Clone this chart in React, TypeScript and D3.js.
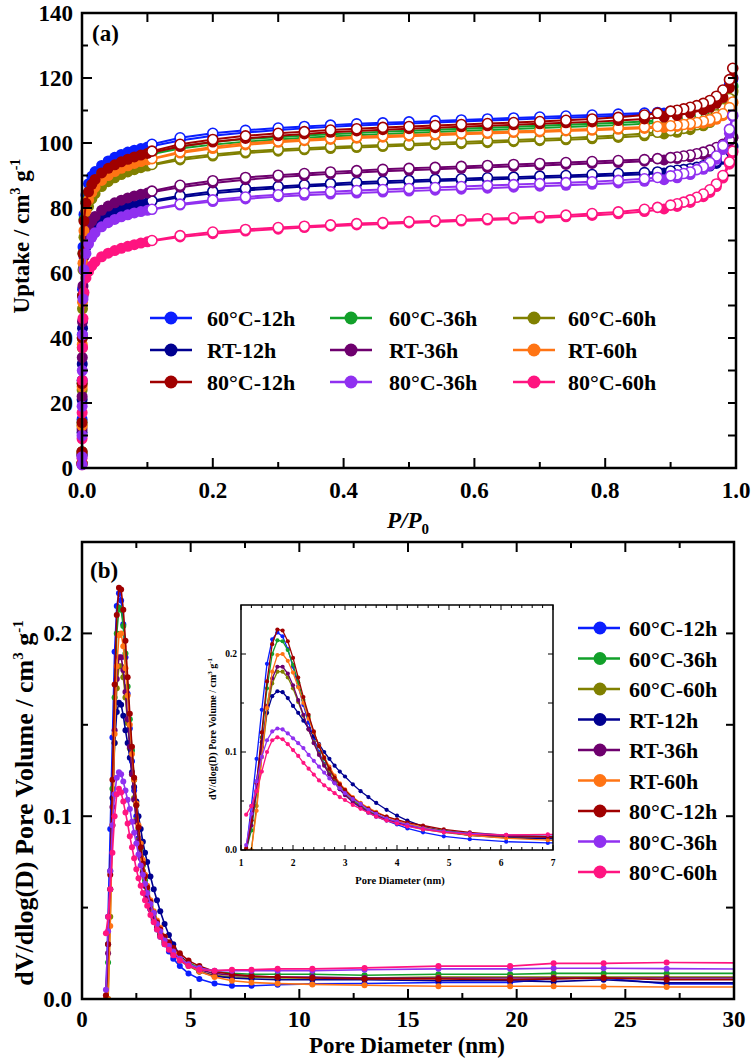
import React from 'react';
import * as d3 from 'd3';

// ---------- shared ----------
const SERIES_NAMES = ['60°C-12h', '60°C-36h', '60°C-60h', 'RT-12h', 'RT-36h', 'RT-60h', '80°C-12h', '80°C-36h', '80°C-60h'];
const SERIES_COLORS = ['#0a1eff', '#12a02a', '#808000', '#000090', '#6e006e', '#ff7414', '#a00000', '#9030f0', '#ff1480'];

// ---------- panel (a): N2 isotherms ----------
const P_ADS = [
  0.00001, 0.00003, 0.0001, 0.0002, 0.0004, 0.0008, 0.0015, 0.003, 0.006,
  0.01, 0.015, 0.02, 0.03, 0.04, 0.05, 0.06, 0.07, 0.08, 0.09, 0.1,
  0.15, 0.2, 0.25, 0.3, 0.34, 0.38, 0.42, 0.46, 0.5,
  0.54, 0.58, 0.62, 0.66, 0.7, 0.74, 0.78, 0.82, 0.86,
  0.89, 0.91, 0.93, 0.95, 0.96, 0.97, 0.98, 0.99, 0.995,
];
const P_DES = [
  0.995, 0.99, 0.98, 0.97, 0.96, 0.95, 0.94, 0.93, 0.92, 0.91, 0.9,
  0.88, 0.86, 0.82, 0.78, 0.74, 0.7, 0.66, 0.62, 0.58,
  0.54, 0.5, 0.46, 0.42, 0.38, 0.34, 0.3, 0.25, 0.2, 0.15, 0.107,
];

const ADS_60_12 = [
  1.5, 5, 15, 27, 41, 55, 68, 78, 84,
  87.5, 89.8, 91.2, 93.1, 94.5, 95.6, 96.5, 97.2, 97.8, 98.3, 98.8,
  100.8, 102.2, 103.2, 104, 104.5, 105, 105.4, 105.7, 106,
  106.3, 106.6, 106.9, 107.2, 107.5, 107.8, 108.1, 108.4, 108.8,
  109.2, 109.6, 110.2, 111, 111.7, 112.7, 114.3, 117, 119.5,
];
const DES_60_12 = [
  120, 117.8, 115, 113.4, 112.3, 111.6, 111, 110.6, 110.2, 109.9, 109.7,
  109.4, 109.2, 108.9, 108.6, 108.3, 108, 107.7, 107.4, 107.1,
  106.8, 106.5, 106.2, 105.9, 105.5, 105.1, 104.6, 103.9, 103, 101.6, 99.6,
];
const ADS_60_36 = [
  1.5, 5, 14, 26, 40, 53, 66, 76.5, 82,
  84.8, 87, 88.5, 90.4, 91.8, 92.9, 93.8, 94.6, 95.3, 95.8, 96.3,
  98.3, 99.5, 100.4, 101.1, 101.6, 102, 102.4, 102.8, 103.1,
  103.4, 103.7, 104, 104.3, 104.6, 104.9, 105.2, 105.5, 105.9,
  106.4, 106.8, 107.4, 108.3, 109, 110, 111.7, 114.5, 117,
];
const DES_60_36 = [
  117.5, 115.3, 112.5, 110.9, 109.9, 109.2, 108.6, 108.1, 107.7, 107.4, 107.2,
  106.9, 106.6, 106.2, 105.9, 105.6, 105.3, 105, 104.7, 104.4,
  104.1, 103.8, 103.5, 103.1, 102.7, 102.3, 101.8, 101.2, 100.3, 98.9, 97,
];
const ADS_60_60 = [
  1.5, 4.5, 13, 24, 37, 49, 61, 71, 77,
  80.5, 82.8, 84.4, 86.6, 88.1, 89.3, 90.3, 91.1, 91.8, 92.4, 92.9,
  94.8, 96, 96.9, 97.5, 97.9, 98.3, 98.6, 98.9, 99.2,
  99.5, 99.8, 100.1, 100.4, 100.7, 101, 101.3, 101.7, 102.2,
  102.8, 103.3, 104.1, 105.3, 106.3, 107.7, 109.8, 113, 115.5,
];
const DES_60_60 = [
  116, 113.7, 110.6, 108.7, 107.4, 106.4, 105.6, 105, 104.5, 104.1, 103.8,
  103.3, 102.9, 102.3, 101.9, 101.5, 101.2, 100.9, 100.6, 100.3,
  100, 99.7, 99.4, 99.1, 98.8, 98.4, 98, 97.4, 96.5, 95.3, 93.4,
];
const ADS_RT_12 = [
  1.2, 4, 11, 21, 32, 43, 53, 62, 68,
  71, 73, 74.4, 76.3, 77.6, 78.6, 79.4, 80.1, 80.7, 81.2, 81.6,
  83.3, 84.5, 85.4, 86.1, 86.6, 87, 87.4, 87.7, 88,
  88.3, 88.5, 88.8, 89, 89.3, 89.5, 89.8, 90.1, 90.4,
  90.8, 91.1, 91.6, 92.3, 92.9, 93.7, 95, 97, 98.5,
];
const DES_RT_12 = [
  99, 97.5, 95.6, 94.4, 93.6, 93, 92.5, 92.1, 91.8, 91.6, 91.4,
  91.1, 90.9, 90.6, 90.3, 90, 89.8, 89.5, 89.3, 89,
  88.8, 88.5, 88.2, 87.9, 87.5, 87.1, 86.6, 86, 85.1, 83.8, 82.2,
];
const ADS_RT_36 = [
  1.2, 4, 12, 22, 34, 45, 56, 65, 71,
  74, 76, 77.4, 79.3, 80.6, 81.6, 82.4, 83.1, 83.7, 84.2, 84.6,
  86.4, 87.7, 88.7, 89.5, 90, 90.5, 90.9, 91.3, 91.6,
  91.9, 92.2, 92.5, 92.8, 93.1, 93.4, 93.7, 94, 94.4,
  94.8, 95.2, 95.7, 96.5, 97.1, 97.9, 99, 100.5, 101.5,
];
const DES_RT_36 = [
  101.8, 100.9, 99.6, 98.6, 97.8, 97.2, 96.7, 96.3, 96, 95.7, 95.5,
  95.2, 94.9, 94.6, 94.3, 94, 93.7, 93.4, 93.1, 92.8,
  92.5, 92.2, 91.9, 91.5, 91.1, 90.6, 90.1, 89.4, 88.4, 87, 85.2,
];
const ADS_RT_60 = [
  1.5, 5, 13, 25, 38, 51, 63, 73, 79,
  82.5, 84.8, 86.4, 88.5, 90, 91.2, 92.2, 93, 93.7, 94.3, 94.8,
  96.9, 98.3, 99.4, 100.2, 100.7, 101.1, 101.5, 101.8, 102.1,
  102.4, 102.7, 102.9, 103.2, 103.4, 103.7, 103.9, 104.2, 104.5,
  104.8, 105.1, 105.5, 106.1, 106.6, 107.3, 108.4, 110.3, 112.2,
];
const DES_RT_60 = [
  112.6, 110.9, 109, 107.9, 107.2, 106.7, 106.3, 106, 105.7, 105.5, 105.3,
  105.1, 104.9, 104.6, 104.3, 104.1, 103.8, 103.6, 103.3, 103.1,
  102.8, 102.5, 102.2, 101.9, 101.5, 101.1, 100.6, 99.9, 98.8, 97.3, 95.2,
];
const ADS_80_12 = [
  1.5, 5, 14, 26, 40, 53, 66, 76, 81.5,
  85, 87.3, 88.8, 90.8, 92.2, 93.3, 94.2, 95, 95.7, 96.3, 96.8,
  98.9, 100.3, 101.4, 102.2, 102.8, 103.3, 103.7, 104.1, 104.4,
  104.7, 105, 105.3, 105.6, 105.9, 106.2, 106.5, 106.9, 107.4,
  108, 108.5, 109.2, 110.2, 111, 112.2, 114, 117, 120,
];
const DES_80_12 = [
  123, 119.5, 116.3, 114.4, 113.1, 112.2, 111.5, 111, 110.5, 110.1, 109.8,
  109.2, 108.6, 107.9, 107.4, 107, 106.6, 106.3, 106, 105.7,
  105.4, 105.1, 104.8, 104.4, 104, 103.5, 103, 102.2, 101.1, 99.6, 97.5,
];
const ADS_80_36 = [
  1, 3.5, 10, 19, 30, 41, 52, 61, 66,
  69, 71, 72.4, 74.2, 75.5, 76.5, 77.3, 77.9, 78.5, 78.9, 79.3,
  80.9, 82, 82.8, 83.5, 83.9, 84.3, 84.6, 84.9, 85.2,
  85.5, 85.8, 86.1, 86.4, 86.7, 87, 87.3, 87.7, 88.2,
  88.7, 89.3, 90.3, 91.9, 93.1, 95, 98, 103, 108.2,
];
const DES_80_36 = [
  108.5, 104.2, 99.2, 96, 94, 92.7, 91.8, 91.1, 90.6, 90.2, 89.9,
  89.4, 89, 88.5, 88.1, 87.8, 87.5, 87.2, 86.9, 86.6,
  86.3, 86, 85.7, 85.4, 85, 84.6, 84.1, 83.4, 82.5, 81.2, 79.6,
];
const ADS_80_60 = [
  1, 3, 9, 17, 27, 37, 46, 54, 58.5,
  60.5, 62.2, 63.4, 65, 66.1, 66.9, 67.6, 68.2, 68.7, 69.2, 69.6,
  71.1, 72.1, 72.9, 73.5, 74, 74.4, 74.8, 75.1, 75.4,
  75.7, 76, 76.3, 76.6, 76.9, 77.3, 77.7, 78.2, 78.9,
  79.7, 80.5, 81.7, 83.5, 84.8, 86.6, 89.2, 93.5, 97,
];
const DES_80_60 = [
  97.5, 94.2, 90, 87.4, 85.6, 84.3, 83.3, 82.5, 81.8, 81.3, 80.9,
  80.2, 79.6, 78.8, 78.3, 77.8, 77.4, 77, 76.7, 76.4,
  76.1, 75.8, 75.5, 75.2, 74.8, 74.4, 74, 73.4, 72.6, 71.5, 70,
];

const ADS_ALL = [ADS_60_12, ADS_60_36, ADS_60_60, ADS_RT_12, ADS_RT_36, ADS_RT_60, ADS_80_12, ADS_80_36, ADS_80_60];
const DES_ALL = [DES_60_12, DES_60_36, DES_60_60, DES_RT_12, DES_RT_36, DES_RT_60, DES_80_12, DES_80_36, DES_80_60];

const A_X_TICKS = [0, 0.2, 0.4, 0.6, 0.8, 1.0];
const A_X_LABELS = ['0.0', '0.2', '0.4', '0.6', '0.8', '1.0'];
const A_Y_TICKS = [0, 20, 40, 60, 80, 100, 120, 140];

// ---------- panel (b): pore size distribution ----------
const PSD_D = [
  1.1, 1.2, 1.3, 1.4, 1.5, 1.6, 1.7, 1.8, 1.9, 2.0,
  2.1, 2.2, 2.3, 2.4, 2.5, 2.6, 2.7, 2.8, 2.9, 3.0,
  3.15, 3.3, 3.45, 3.6, 3.8, 4.0, 4.2, 4.5, 4.9, 5.4,
  6.1, 6.9, 7.8, 9.0, 10.6, 13.0, 16.4, 19.7, 21.7, 24.0,
  26.9, 31.0,
];
const PSD_60_12 = [
  0.0, 0.045, 0.093, 0.143, 0.19, 0.215, 0.222, 0.218, 0.205, 0.187,
  0.167, 0.148, 0.13, 0.114, 0.1, 0.088, 0.078, 0.069, 0.062, 0.056,
  0.049, 0.043, 0.038, 0.034, 0.03, 0.026, 0.022, 0.018, 0.014, 0.011,
  0.0085, 0.0072, 0.0072, 0.0078, 0.0083, 0.0085, 0.009, 0.009, 0.0112, 0.0115,
  0.0082, 0.0082,
];
const PSD_60_36 = [
  0.0, 0.02, 0.06, 0.115, 0.165, 0.2, 0.214, 0.213, 0.204, 0.189,
  0.171, 0.153, 0.136, 0.12, 0.106, 0.093, 0.082, 0.073, 0.065, 0.059,
  0.051, 0.045, 0.04, 0.036, 0.032, 0.029, 0.026, 0.023, 0.02, 0.017,
  0.015, 0.014, 0.0135, 0.0135, 0.0135, 0.013, 0.0135, 0.0135, 0.014, 0.014,
  0.014, 0.014,
];
const PSD_60_60 = [
  0.0, 0.0, 0.045, 0.095, 0.14, 0.17, 0.182, 0.182, 0.176, 0.165,
  0.151, 0.137, 0.123, 0.11, 0.098, 0.087, 0.078, 0.07, 0.063, 0.057,
  0.05, 0.044, 0.039, 0.035, 0.031, 0.028, 0.025, 0.021, 0.018, 0.015,
  0.013, 0.012, 0.012, 0.0115, 0.0115, 0.0115, 0.012, 0.012, 0.012, 0.012,
  0.012, 0.012,
];
const PSD_RT_12 = [
  0.0, 0.03, 0.07, 0.11, 0.14, 0.157, 0.162, 0.161, 0.155, 0.147,
  0.14, 0.132, 0.124, 0.116, 0.108, 0.1, 0.093, 0.086, 0.08, 0.075,
  0.067, 0.06, 0.054, 0.048, 0.041, 0.035, 0.03, 0.024, 0.019, 0.015,
  0.0125, 0.0115, 0.011, 0.0105, 0.0105, 0.0105, 0.01, 0.01, 0.0095, 0.0105,
  0.0088, 0.0088,
];
const PSD_RT_36 = [
  0.0, 0.025, 0.06, 0.105, 0.147, 0.175, 0.187, 0.187, 0.18, 0.168,
  0.153, 0.138, 0.123, 0.109, 0.097, 0.086, 0.077, 0.069, 0.062, 0.056,
  0.049, 0.044, 0.039, 0.035, 0.031, 0.028, 0.025, 0.022, 0.019, 0.016,
  0.014, 0.013, 0.0125, 0.012, 0.012, 0.0115, 0.0115, 0.0115, 0.0115, 0.0115,
  0.0115, 0.0115,
];
const PSD_RT_60 = [
  0.0, 0.0, 0.04, 0.095, 0.145, 0.182, 0.199, 0.2, 0.193, 0.181,
  0.166, 0.15, 0.134, 0.12, 0.107, 0.095, 0.085, 0.076, 0.068, 0.062,
  0.054, 0.048, 0.043, 0.039, 0.034, 0.03, 0.027, 0.023, 0.019, 0.015,
  0.012, 0.01, 0.009, 0.0085, 0.008, 0.0075, 0.007, 0.007, 0.007, 0.0068,
  0.0066, 0.0066,
];
const PSD_80_12 = [
  0.002, 0.03, 0.068, 0.12, 0.172, 0.21, 0.225, 0.224, 0.213, 0.196,
  0.176, 0.156, 0.138, 0.121, 0.106, 0.094, 0.083, 0.074, 0.067, 0.061,
  0.053, 0.047, 0.042, 0.038, 0.034, 0.031, 0.028, 0.025, 0.021, 0.018,
  0.015, 0.0135, 0.0125, 0.012, 0.0115, 0.011, 0.011, 0.0105, 0.011, 0.0115,
  0.0105, 0.0105,
];
const PSD_80_36 = [
  0.005, 0.037, 0.07, 0.095, 0.112, 0.121, 0.124, 0.123, 0.119, 0.114,
  0.109, 0.104, 0.097, 0.091, 0.085, 0.079, 0.073, 0.068, 0.063, 0.058,
  0.052, 0.047, 0.041, 0.037, 0.032, 0.029, 0.026, 0.022, 0.019, 0.017,
  0.0155, 0.0155, 0.0155, 0.0155, 0.0155, 0.016, 0.0165, 0.0165, 0.0168, 0.0168,
  0.0166, 0.0164,
];
const PSD_80_60 = [
  0.036, 0.045, 0.06, 0.08, 0.1, 0.112, 0.115, 0.113, 0.108, 0.102,
  0.096, 0.089, 0.083, 0.077, 0.071, 0.066, 0.062, 0.058, 0.054, 0.051,
  0.046, 0.042, 0.038, 0.034, 0.03, 0.027, 0.024, 0.021, 0.018, 0.016,
  0.0155, 0.016, 0.016, 0.0165, 0.0165, 0.017, 0.018, 0.018, 0.0195, 0.0195,
  0.02, 0.0197,
];
const PSD_ALL = [PSD_60_12, PSD_60_36, PSD_60_60, PSD_RT_12, PSD_RT_36, PSD_RT_60, PSD_80_12, PSD_80_36, PSD_80_60];

const B_X_TICKS = [0, 5, 10, 15, 20, 25, 30];
const B_Y_TICKS = [0, 0.1, 0.2];
const B_Y_LABELS = ['0.0', '0.1', '0.2'];
const I_X_TICKS = [1, 2, 3, 4, 5, 6, 7];
const I_Y_TICKS = [0, 0.1, 0.2];
const I_Y_LABELS = ['0.0', '0.1', '0.2'];

const FONT = "'Liberation Serif', 'Times New Roman', serif";
const DRAW_ORDER_A = [0, 1, 2, 3, 4, 5, 6, 8, 7];

export default function App() {
  const xA = d3.scaleLinear().domain([0, 1]).range([82, 736]);
  const yA = d3.scaleLinear().domain([0, 140]).range([468, 13]);
  const xB = d3.scaleLinear().domain([0, 30]).range([82, 734]);
  const yB = d3.scaleLinear().domain([0, 0.25]).range([999, 542]);
  const xI = d3.scaleLinear().domain([1, 7]).range([241, 553]);
  const yI = d3.scaleLinear().domain([0, 0.25]).range([850, 605]);

  const lineA = d3.line<[number, number]>().x((d) => xA(d[0])).y((d) => yA(d[1]));
  const lineB = d3.line<[number, number]>().x((d) => xB(d[0])).y((d) => yB(d[1]));
  const lineI = d3.line<[number, number]>().x((d) => xI(d[0])).y((d) => yI(d[1]));

  const ads = ADS_ALL.map((arr) => P_ADS.map((p, i) => [p, arr[i]] as [number, number]));
  const des = DES_ALL.map((arr) => P_DES.map((p, i) => [p, arr[i]] as [number, number]));
  const psd = PSD_ALL.map((arr) => PSD_D.map((d, i) => [d, arr[i]] as [number, number]));

  const txt = { fontFamily: FONT, fontWeight: 700 as const };

  // ---- ticks ----
  const aXMinor = d3.range(0.1, 1.0, 0.2);
  const aTop = d3.range(0.1, 1.0, 0.1);
  const aYMinor = d3.range(10, 140, 20);
  const aRight = d3.range(10, 140, 10);
  const bXMinor = d3.range(2.5, 30, 5);
  const bYMinor = [0.05, 0.15];
  const bRight = [0.05, 0.1, 0.15, 0.2];
  const iXMinor = d3.range(1.2, 7, 0.2).filter((v) => Math.abs(v - Math.round(v)) > 0.05);
  const iYMinor = [0.05, 0.15];
  const iRight = [0.05, 0.1, 0.15, 0.2];

  const tick = { stroke: '#000', strokeWidth: 2 };
  const tickI = { stroke: '#000', strokeWidth: 1 };

  const legendA = [
    { i: 0, col: 0, row: 0 }, { i: 3, col: 0, row: 1 }, { i: 6, col: 0, row: 2 },
    { i: 1, col: 1, row: 0 }, { i: 4, col: 1, row: 1 }, { i: 7, col: 1, row: 2 },
    { i: 2, col: 2, row: 0 }, { i: 5, col: 2, row: 1 }, { i: 8, col: 2, row: 2 },
  ];
  const legACols = [150, 330, 513];
  const legATextX = [207, 389, 568];
  const legARows = [318, 350, 382];

  return (
    <svg width={752} height={1063} style={{ position: 'absolute', left: 0, top: 0, background: '#fff' }}>
      <rect x={0} y={0} width={752} height={1063} fill="#fff" />
      <defs>
        <clipPath id="clipB"><rect x={82} y={542} width={652} height={457} /></clipPath>
        <clipPath id="clipI"><rect x={241} y={605} width={312} height={245} /></clipPath>
      </defs>

      {/* ================= Panel (a) ================= */}
      {DRAW_ORDER_A.map((s) => (
        <g key={'a' + s}>
          <path d={lineA(ads[s]) || ''} fill="none" stroke={SERIES_COLORS[s]} strokeWidth={2} />
          <path d={lineA(des[s]) || ''} fill="none" stroke={SERIES_COLORS[s]} strokeWidth={2} />
          {ads[s].map((d, k) => (
            <circle key={'ad' + k} cx={xA(d[0])} cy={yA(d[1])} r={5.5} fill={SERIES_COLORS[s]} />
          ))}
          {des[s].map((d, k) => (
            <circle key={'de' + k} cx={xA(d[0])} cy={yA(d[1])} r={5} fill="#fff" stroke={SERIES_COLORS[s]} strokeWidth={1.6} />
          ))}
        </g>
      ))}

      {/* frame a */}
      <rect x={82} y={13} width={654} height={455} fill="none" stroke="#000" strokeWidth={2.5} />
      {A_X_TICKS.map((v) => <line key={'axt' + v} x1={xA(v)} x2={xA(v)} y1={468} y2={458} {...tick} />)}
      {aXMinor.map((v) => <line key={'axm' + v} x1={xA(v)} x2={xA(v)} y1={468} y2={462} {...tick} />)}
      {aTop.map((v) => <line key={'atp' + v} x1={xA(v)} x2={xA(v)} y1={13} y2={22} {...tick} />)}
      {A_Y_TICKS.map((v) => <line key={'ayt' + v} x1={82} x2={92} y1={yA(v)} y2={yA(v)} {...tick} />)}
      {aYMinor.map((v) => <line key={'aym' + v} x1={82} x2={88} y1={yA(v)} y2={yA(v)} {...tick} />)}
      {aRight.map((v) => <line key={'art' + v} x1={736} x2={728} y1={yA(v)} y2={yA(v)} {...tick} />)}

      {A_X_TICKS.map((v, k) => (
        <text key={'axl' + v} x={xA(v)} y={498} textAnchor="middle" fontSize={23} {...txt}>{A_X_LABELS[k]}</text>
      ))}
      {A_Y_TICKS.map((v) => (
        <text key={'ayl' + v} x={73} y={yA(v) + 8} textAnchor="end" fontSize={23} {...txt}>{v}</text>
      ))}
      <text x={92} y={41} fontSize={23} {...txt}>(a)</text>
      <text x={387} y={528} fontSize={23} {...txt}>
        <tspan fontStyle="italic">P/P</tspan>
        <tspan fontSize={15} dy={6}>0</tspan>
      </text>
      <text transform="translate(29,236) rotate(-90)" textAnchor="middle" fontSize={23} {...txt}>
        <tspan>Uptake / cm</tspan>
        <tspan fontSize={14} dy={-9}>3</tspan>
        <tspan dy={9}> g</tspan>
        <tspan fontSize={14} dy={-9}>-1</tspan>
      </text>

      {/* legend a */}
      {legendA.map(({ i, col, row }) => (
        <g key={'lga' + i}>
          <line x1={legACols[col]} x2={legACols[col] + 42} y1={legARows[row]} y2={legARows[row]} stroke={SERIES_COLORS[i]} strokeWidth={2.5} />
          <circle cx={legACols[col] + 21} cy={legARows[row]} r={6.5} fill={SERIES_COLORS[i]} />
          <text x={legATextX[col]} y={legARows[row] + 8} fontSize={22} {...txt}>{SERIES_NAMES[i]}</text>
        </g>
      ))}

      {/* ================= Panel (b) ================= */}
      <g clipPath="url(#clipB)">
        {psd.map((ser, s) => (
          <g key={'b' + s}>
            <path d={lineB(ser) || ''} fill="none" stroke={SERIES_COLORS[s]} strokeWidth={1.6} />
            {ser.map((d, k) => (
              <circle key={k} cx={xB(d[0])} cy={yB(d[1])} r={3} fill={SERIES_COLORS[s]} />
            ))}
          </g>
        ))}
      </g>
      <rect x={82} y={542} width={652} height={457} fill="none" stroke="#000" strokeWidth={2.5} />
      {B_X_TICKS.map((v) => <line key={'bxt' + v} x1={xB(v)} x2={xB(v)} y1={999} y2={989} {...tick} />)}
      {bXMinor.map((v) => <line key={'bxm' + v} x1={xB(v)} x2={xB(v)} y1={999} y2={993} {...tick} />)}
      {B_X_TICKS.map((v) => <line key={'btt' + v} x1={xB(v)} x2={xB(v)} y1={542} y2={552} {...tick} />)}
      {bXMinor.map((v) => <line key={'btm' + v} x1={xB(v)} x2={xB(v)} y1={542} y2={548} {...tick} />)}
      {B_Y_TICKS.map((v) => <line key={'byt' + v} x1={82} x2={92} y1={yB(v)} y2={yB(v)} {...tick} />)}
      {bYMinor.map((v) => <line key={'bym' + v} x1={82} x2={88} y1={yB(v)} y2={yB(v)} {...tick} />)}
      {bRight.map((v) => <line key={'brt' + v} x1={734} x2={726} y1={yB(v)} y2={yB(v)} {...tick} />)}
      {B_X_TICKS.map((v) => (
        <text key={'bxl' + v} x={xB(v)} y={1027} textAnchor="middle" fontSize={23} {...txt}>{v}</text>
      ))}
      {B_Y_TICKS.map((v, k) => (
        <text key={'byl' + v} x={72} y={yB(v) + 8} textAnchor="end" fontSize={23} {...txt}>{B_Y_LABELS[k]}</text>
      ))}
      <text x={90} y={578} fontSize={23} {...txt}>(b)</text>
      <text x={407} y={1053} textAnchor="middle" fontSize={23} {...txt}>Pore Diameter (nm)</text>
      <text transform="translate(33,803) rotate(-90)" textAnchor="middle" fontSize={26} {...txt}>
        <tspan>dV/dlog(D) Pore Volume / cm</tspan>
        <tspan fontSize={15} dy={-10}>3</tspan>
        <tspan dy={10}> g</tspan>
        <tspan fontSize={15} dy={-10}>-1</tspan>
      </text>

      {/* legend b */}
      {SERIES_NAMES.map((name, i) => {
        const y = 628 + i * 30.5;
        return (
          <g key={'lgb' + i}>
            <line x1={578} x2={620} y1={y} y2={y} stroke={SERIES_COLORS[i]} strokeWidth={2.5} />
            <circle cx={600} cy={y} r={6.5} fill={SERIES_COLORS[i]} />
            <text x={629} y={y + 8} fontSize={22} {...txt}>{name}</text>
          </g>
        );
      })}

      {/* inset */}
      <rect x={241} y={605} width={312} height={245} fill="#fff" />
      <g clipPath="url(#clipI)">
        {psd.map((ser, s) => (
          <g key={'i' + s}>
            <path d={lineI(ser) || ''} fill="none" stroke={SERIES_COLORS[s]} strokeWidth={1.3} />
            {ser.map((d, k) => (
              <circle key={k} cx={xI(d[0])} cy={yI(d[1])} r={2.1} fill={SERIES_COLORS[s]} />
            ))}
          </g>
        ))}
      </g>
      <rect x={241} y={605} width={312} height={245} fill="none" stroke="#000" strokeWidth={1.5} />
      {I_X_TICKS.map((v) => <line key={'ixt' + v} x1={xI(v)} x2={xI(v)} y1={850} y2={845} {...tickI} />)}
      {iXMinor.map((v) => <line key={'ixm' + v} x1={xI(v)} x2={xI(v)} y1={850} y2={847} {...tickI} />)}
      {I_X_TICKS.map((v) => <line key={'itt' + v} x1={xI(v)} x2={xI(v)} y1={605} y2={610} {...tickI} />)}
      {iXMinor.map((v) => <line key={'itm' + v} x1={xI(v)} x2={xI(v)} y1={605} y2={608} {...tickI} />)}
      {I_Y_TICKS.map((v) => <line key={'iyt' + v} x1={241} x2={246} y1={yI(v)} y2={yI(v)} {...tickI} />)}
      {iYMinor.map((v) => <line key={'iym' + v} x1={241} x2={244} y1={yI(v)} y2={yI(v)} {...tickI} />)}
      {iRight.map((v) => <line key={'irt' + v} x1={553} x2={548} y1={yI(v)} y2={yI(v)} {...tickI} />)}
      {I_X_TICKS.map((v) => (
        <text key={'ixl' + v} x={xI(v)} y={866} textAnchor="middle" fontSize={9.5} {...txt}>{v}</text>
      ))}
      {I_Y_TICKS.map((v, k) => (
        <text key={'iyl' + v} x={237} y={yI(v) + 3} textAnchor="end" fontSize={9.5} {...txt}>{I_Y_LABELS[k]}</text>
      ))}
      <text x={400} y={884} textAnchor="middle" fontSize={10.5} {...txt}>Pore Diameter (nm)</text>
      <text transform="translate(216,729) rotate(-90)" textAnchor="middle" fontSize={10} {...txt}>
        <tspan>dV/dlog(D) Pore Volume / cm</tspan>
        <tspan fontSize={7} dy={-4}>3</tspan>
        <tspan dy={4}> g</tspan>
        <tspan fontSize={7} dy={-4}>-1</tspan>
      </text>
    </svg>
  );
}
